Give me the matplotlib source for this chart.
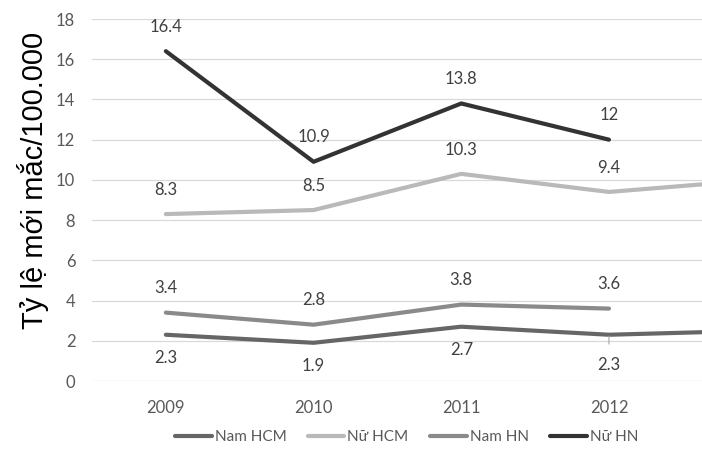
import matplotlib
matplotlib.use("agg")
import numpy as np
import matplotlib.pyplot as plt

# data (2013 is only partly visible at the right edge)
years = ["2009", "2010", "2011", "2012", "2013"]
nam_hcm = [2.3, 1.9, 2.7, 2.3, 2.5]
nu_hcm = [8.3, 8.5, 10.3, 9.4, 10.0]
nam_hn = [3.4, 2.8, 3.8, 3.6, np.nan]
nu_hn = [16.4, 10.9, 13.8, 12.0, np.nan]

series = [
    ("Nam HCM", nam_hcm, "#666666", "below"),
    ("Nữ HCM", nu_hcm, "#b9b9b9", "above"),
    ("Nam HN", nam_hn, "#8a8a8a", "above"),
    ("Nữ HN", nu_hn, "#333333", "above"),
]

plt.rcParams["font.family"] = ["Lato", "DejaVu Sans"]

W, H = 702, 453
fig = plt.figure(figsize=(W / 100, H / 100), dpi=100)
# plot area is wider than the picture: the 2013 column is cut off on the right
ax = fig.add_axes([92 / W, 72 / H, 738.5 / W, 362 / H])

x = np.arange(len(years))
for name, vals, color, pos in series:
    ax.plot(x, vals, color=color, lw=3.0, solid_capstyle="round",
            solid_joinstyle="round", label=name, zorder=3, clip_on=False)
    for xi, v in zip(x, vals):
        # the 2013 labels fall outside the picture
        if np.isnan(v) or years[xi] == "2013":
            continue
        txt = f"{v:g}"
        dy = 17.5 if pos == "above" else -16.5
        if name == "Nam HCM" and years[xi] == "2012":
            # label pulled down with a leader line
            ax.annotate(txt, (xi, v), xytext=(0, -21.5), textcoords="offset points",
                        ha="center", va="center", fontsize=12, color="#404040",
                        arrowprops=dict(arrowstyle="-", color="#a6a6a6", lw=0.8,
                                        shrinkA=7, shrinkB=1))
            continue
        ax.annotate(txt, (xi, v), xytext=(0, dy), textcoords="offset points",
                    ha="center", va="center", fontsize=12, color="#404040")

ax.set_xlim(-0.5, len(years) - 0.5)
ax.set_ylim(0, 18)
ax.set_yticks(range(0, 19, 2))
ax.set_xticks(x[:-1])
ax.set_xticklabels(years[:-1])
ax.grid(axis="y", color="#d9d9d9", lw=0.9)
ax.set_axisbelow(True)
for s in ax.spines.values():
    s.set_visible(False)
ax.tick_params(length=0, labelsize=12, labelcolor="#595959")
ax.tick_params(axis="x", pad=14)
ax.tick_params(axis="y", pad=12)

fig.text(33 / W, 1 - 180 / H, "Tỷ lệ mới mắc/100.000", rotation=90,
         ha="center", va="center", fontsize=21, family="Liberation Sans",
         color="#000000")

fig.legend(loc="center", bbox_to_anchor=(406.5 / W, 1 - 437 / H), ncol=4,
           frameon=False, fontsize=11, labelcolor="#595959",
           handlelength=2.4, handletextpad=0.2, columnspacing=1.4)

fig.savefig("out.png", dpi=100)
